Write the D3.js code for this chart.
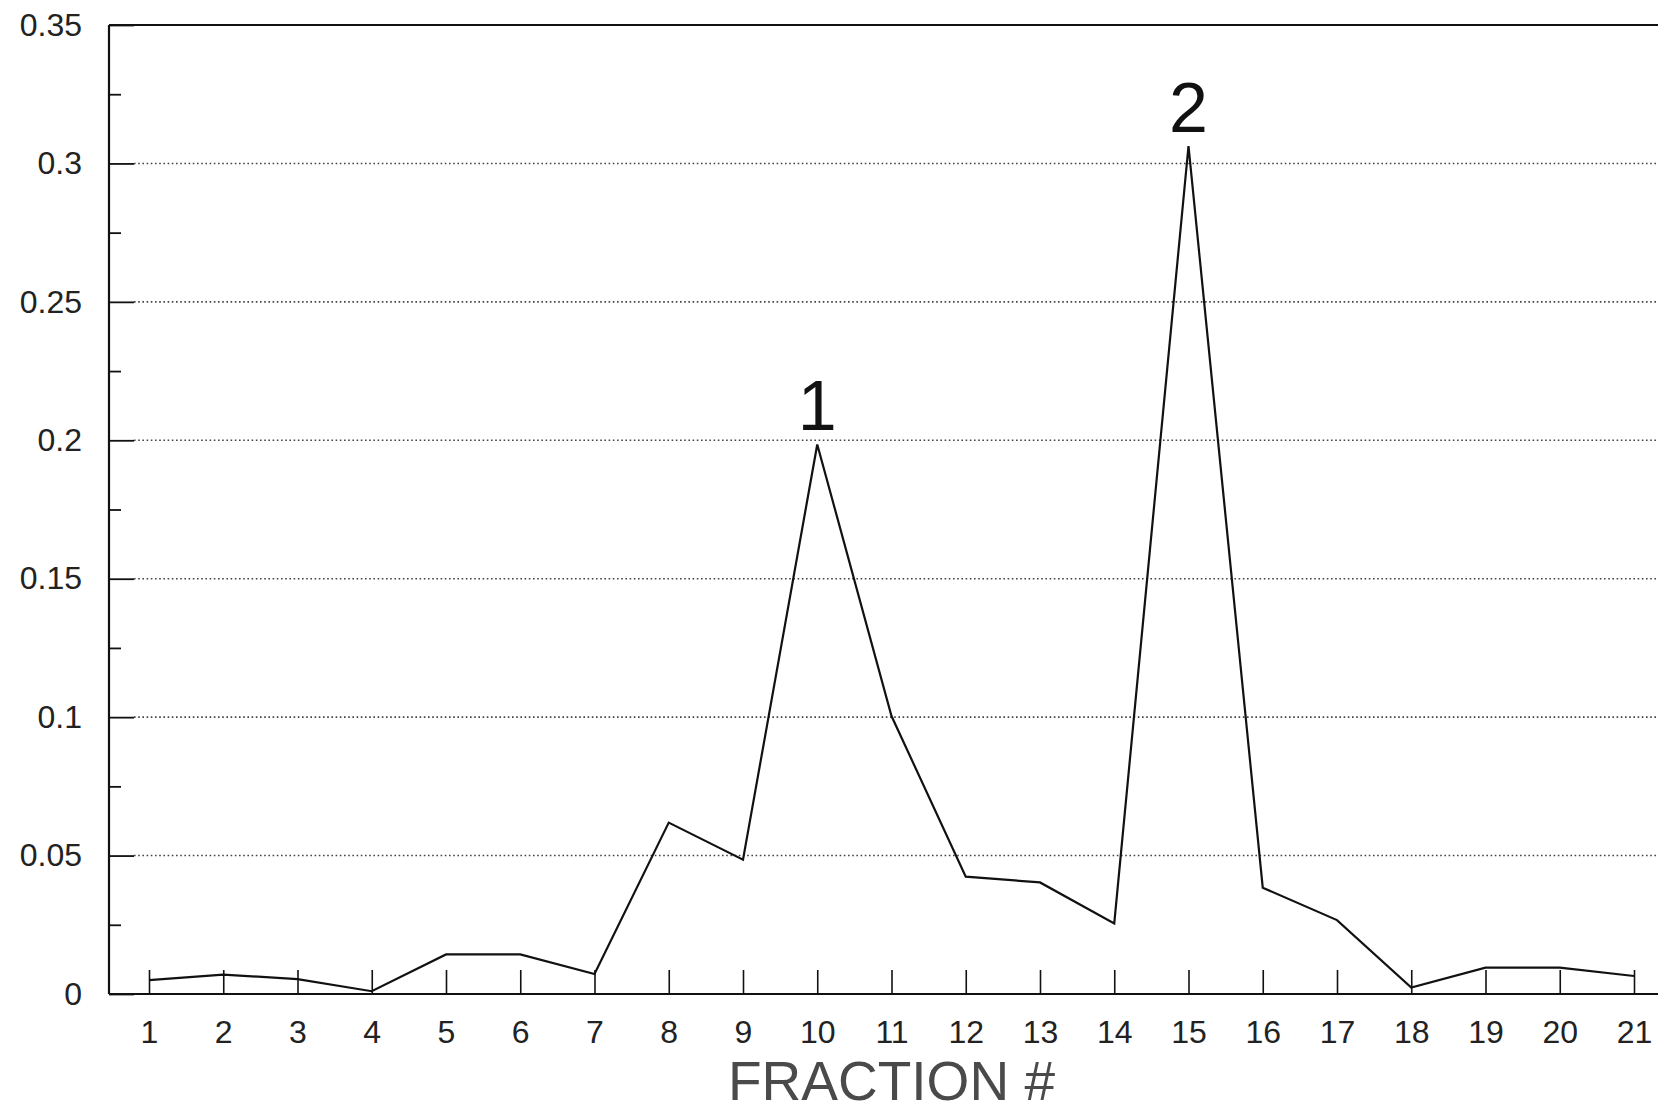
<!DOCTYPE html>
<html>
<head>
<meta charset="utf-8">
<script src="https://cdn.jsdelivr.net/npm/d3@7"></script>
<style>
  html, body { margin: 0; padding: 0; background: #fff; }
  svg { display: block; font-family: "Liberation Sans", Arial, Helvetica, sans-serif; }
</style>
</head>
<body>
<div id="chart"></div>
<script>
// fraction numbers and absorbance
let fractions = [1, 2, 3, 4, 5, 6, 7, 8, 9, 10, 11, 12, 13, 14, 15, 16, 17, 18, 19, 20, 21];
let absorbance = [0.005, 0.007, 0.0054, 0.001, 0.0143, 0.0143, 0.0072, 0.0619, 0.0485, 0.1985,
                  0.1004, 0.0424, 0.0403, 0.0255, 0.3063, 0.0384, 0.0267, 0.0023, 0.0095, 0.0095, 0.0065];
let yMajor = [0, 0.05, 0.1, 0.15, 0.2, 0.25, 0.3, 0.35];
let yMinor = [0.025, 0.075, 0.125, 0.175, 0.225, 0.275, 0.325];
let peaks = [{fraction: 10, label: "1"}, {fraction: 15, label: "2"}];
let xTitle = "FRACTION #";

let W = 1658, H = 1114;
let plotLeft = 109, plotTop = 25, plotBottom = 994, plotRight = W;

let svg = d3.select("#chart").append("svg")
    .attr("width", W)
    .attr("height", H);

let x = d3.scaleLinear().domain([1, 21]).range([149, 1634]);
let y = d3.scaleLinear().domain([0, 0.35]).range([plotBottom, plotTop]);

// dotted grid lines
svg.append("g")
    .selectAll("line")
    .data(yMajor.filter(function(d) { return d > 0 && d < 0.35; }))
    .enter().append("line")
    .attr("x1", plotLeft + 25)
    .attr("x2", plotRight)
    .attr("y1", function(d) { return y(d); })
    .attr("y2", function(d) { return y(d); })
    .attr("stroke", "#444")
    .attr("stroke-width", 1.6)
    .attr("stroke-dasharray", "1.6,2.6");

// y axis, major ticks with labels
let yAxis = svg.append("g")
    .attr("transform", "translate(" + plotLeft + ",0)")
    .call(d3.axisLeft(y).tickValues(yMajor).tickSize(-25).tickPadding(27)
        .tickFormat(function(d) { return d3.format("")(+d.toFixed(2)); }));
yAxis.select(".domain").remove();
yAxis.selectAll(".tick line").attr("stroke", "#111").attr("stroke-width", 1.8);
yAxis.selectAll(".tick text")
    .attr("fill", "#222")
    .style("font-size", "32px");

// y axis, minor ticks
let yAxisMinor = svg.append("g")
    .attr("transform", "translate(" + plotLeft + ",0)")
    .call(d3.axisLeft(y).tickValues(yMinor).tickSize(-12).tickFormat(""));
yAxisMinor.select(".domain").remove();
yAxisMinor.selectAll(".tick line").attr("stroke", "#111").attr("stroke-width", 1.8);

// x axis
let xAxis = svg.append("g")
    .attr("transform", "translate(0," + plotBottom + ")")
    .call(d3.axisBottom(x).tickValues(fractions).tickSize(-24).tickPadding(26));
xAxis.select(".domain").remove();
xAxis.selectAll(".tick line").attr("stroke", "#111").attr("stroke-width", 1.6);
xAxis.selectAll(".tick text")
    .attr("fill", "#222")
    .style("font-size", "32px");

// frame lines: left, bottom, top
svg.append("line")
    .attr("x1", plotLeft).attr("x2", plotLeft).attr("y1", plotTop).attr("y2", plotBottom)
    .attr("stroke", "#111").attr("stroke-width", 2.2);
svg.append("line")
    .attr("x1", plotLeft).attr("x2", plotRight).attr("y1", plotBottom).attr("y2", plotBottom)
    .attr("stroke", "#111").attr("stroke-width", 2.2);
svg.append("line")
    .attr("x1", plotLeft).attr("x2", plotRight).attr("y1", plotTop).attr("y2", plotTop)
    .attr("stroke", "#111").attr("stroke-width", 2.2);

// the profile
let line = d3.line()
    .x(function(d, i) { return x(fractions[i]); })
    .y(function(d) { return y(d); });

svg.append("path")
    .datum(absorbance)
    .attr("d", line)
    .attr("fill", "none")
    .attr("stroke", "#111")
    .attr("stroke-width", 2.2)
    .attr("stroke-linejoin", "miter");

// peak labels
svg.append("g")
    .selectAll("text")
    .data(peaks)
    .enter().append("text")
    .attr("x", function(d) { return x(d.fraction); })
    .attr("y", function(d) { return y(absorbance[d.fraction - 1]) - 14; })
    .attr("text-anchor", "middle")
    .attr("fill", "#111")
    .style("font-size", "70px")
    .text(function(d) { return d.label; });

// x title
svg.append("text")
    .attr("x", (x(1) + x(21)) / 2)
    .attr("y", 1100)
    .attr("text-anchor", "middle")
    .attr("fill", "#4a4a4a")
    .style("font-size", "55px")
    .text(xTitle);
</script>
</body>
</html>
